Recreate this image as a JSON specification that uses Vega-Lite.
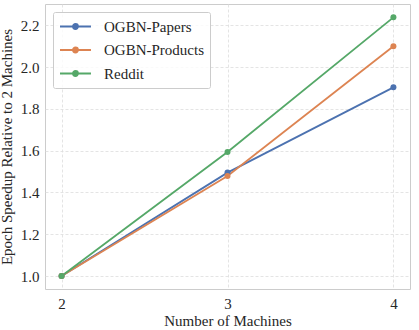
{
  "$schema": "https://vega.github.io/schema/vega-lite/v6.json",
  "width": 365,
  "height": 285,
  "autosize": {"type": "none"},
  "padding": {"left": 45, "top": 4, "right": 9, "bottom": 41},
  "background": "white",
  "config": {
    "font": "Liberation Serif",
    "view": {"stroke": "#cccccc", "strokeWidth": 1},
    "axis": {
      "labelFont": "Liberation Serif",
      "titleFont": "Liberation Serif",
      "labelFontSize": 15,
      "titleFontSize": 15,
      "titleFontWeight": "normal",
      "labelColor": "#262626",
      "titleColor": "#262626",
      "domain": false,
      "ticks": false,
      "grid": true,
      "gridColor": "#dddddd",
      "gridDash": [3, 2],
      "gridWidth": 0.8
    },
    "legend": {
      "labelFont": "Liberation Serif",
      "labelFontSize": 15,
      "labelColor": "#262626"
    }
  },
  "data": {
    "values": [
      {"machines": 2, "speedup": 1.0, "dataset": "OGBN-Papers"},
      {"machines": 3, "speedup": 1.495, "dataset": "OGBN-Papers"},
      {"machines": 4, "speedup": 1.903, "dataset": "OGBN-Papers"},
      {"machines": 2, "speedup": 1.0, "dataset": "OGBN-Products"},
      {"machines": 3, "speedup": 1.479, "dataset": "OGBN-Products"},
      {"machines": 4, "speedup": 2.1, "dataset": "OGBN-Products"},
      {"machines": 2, "speedup": 1.0, "dataset": "Reddit"},
      {"machines": 3, "speedup": 1.594, "dataset": "Reddit"},
      {"machines": 4, "speedup": 2.238, "dataset": "Reddit"}
    ]
  },
  "mark": {"type": "line", "strokeWidth": 1.8, "point": {"filled": true, "size": 36, "opacity": 1}},
  "encoding": {
    "x": {
      "field": "machines",
      "type": "quantitative",
      "title": "Number of Machines",
      "scale": {"domain": [1.9, 4.1], "nice": false, "zero": false},
      "axis": {"values": [2, 3, 4], "format": "d", "labelPadding": 7, "titlePadding": 2, "labelFont": "Liberation Serif", "titleFont": "Liberation Serif"}
    },
    "y": {
      "field": "speedup",
      "type": "quantitative",
      "title": "Epoch Speedup Relative to 2 Machines",
      "scale": {"domain": [0.938, 2.302], "nice": false, "zero": false},
      "axis": {"values": [1.0, 1.2, 1.4, 1.6, 1.8, 2.0, 2.2], "format": ".1f", "labelPadding": 6, "titlePadding": 6, "labelFont": "Liberation Serif", "titleFont": "Liberation Serif"}
    },
    "color": {
      "field": "dataset",
      "type": "nominal",
      "scale": {"domain": ["OGBN-Papers", "OGBN-Products", "Reddit"], "range": ["#4c72b0", "#dd8452", "#55a868"]},
      "legend": {
        "title": null,
        "orient": "none",
        "legendX": 8,
        "legendY": 8,
        "padding": 6,
        "rowPadding": 6.5,
        "strokeColor": "#cccccc",
        "fillColor": "rgba(255,255,255,0.8)",
        "cornerRadius": 2,
        "labelFont": "Liberation Serif",
        "labelFontSize": 15,
        "labelColor": "#262626",
        "symbolType": "M-1,0L3.13,0M0.733,0A0.333,0.333,0,1,1,1.4,0A0.333,0.333,0,1,1,0.733,0Z",
        "symbolSize": 225,
        "symbolStrokeWidth": 1.8,
        "labelOffset": 28,
        "encode": {
          "symbols": {"update": {"fill": {"scale": "color", "field": "value"}, "fillOpacity": {"value": 1}}},
          "labels": {"update": {"font": {"value": "Liberation Serif"}}}
        }
      }
    }
  }
}
